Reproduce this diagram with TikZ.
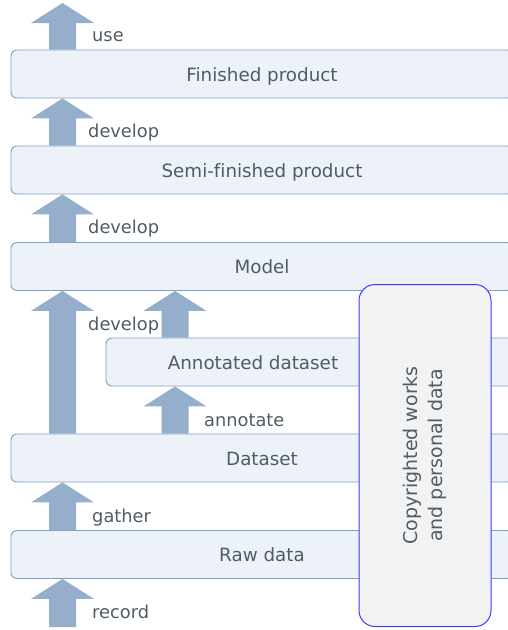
\documentclass[tikz,border=0pt]{standalone}
\usepackage{fontspec}
\setmainfont[Ligatures=NoCommon]{DejaVu Sans}
\usetikzlibrary{calc}
\definecolor{barfill}{HTML}{EDF2F9}
\definecolor{bardraw}{HTML}{7F9DCB}
\definecolor{arrowfill}{HTML}{94AECB}
\definecolor{txt}{HTML}{505C65}
\definecolor{cfill}{HTML}{F2F2F2}
\definecolor{cdraw}{HTML}{3C3CF5}
\tikzset{
  bar/.style={draw=bardraw, fill=barfill, line width=0.9pt, rounded corners=6pt, minimum height=48pt, inner sep=0pt, text=txt, text height=14pt, text depth=0pt, font=\fontsize{18.3}{21}\selectfont},
  bartext/.style={text=txt, font=\fontsize{18.3}{21}\selectfont, text height=14pt, text depth=0pt, inner sep=0pt},
  lbl/.style={text=txt, font=\fontsize{17.8}{20}\selectfont, inner sep=0pt, anchor=base west},
  blockarrow/.style={to path={let \p1=(\tikztostart), \p2=(\tikztotarget) in
    (\x1-13.5pt,\y1) -- (\x1-13.5pt,\y2-20pt) -- (\x1-31.5pt,\y2-20pt) -- (\x1,\y2) -- (\x1+31.5pt,\y2-20pt) -- (\x1+13.5pt,\y2-20pt) -- (\x1+13.5pt,\y1) -- cycle}},
  cbox/.style={draw=cdraw, fill=cfill, line width=1pt, rounded corners=16pt, minimum width=132pt, minimum height=342pt, inner sep=0pt}
}
\begin{document}
\begin{tikzpicture}[x=1pt,y=1pt]
\useasboundingbox (0,0) rectangle (508,-630);
\clip (0,0) rectangle (508,-630);
% bars
\node[bar, minimum width=502pt] (fin) at (262,-74) {Finished product};
\node[bar, minimum width=502pt] (semi) at (262,-170) {Semi-finished product};
\node[bar, minimum width=502pt] (model) at (262,-266.5) {Model};
\node[bar, minimum width=420pt] (ann) at (316,-362) {};
\node[bartext] (annt) at (253,-362) {Annotated dataset};
\node[bar, minimum width=502pt] (data) at (262,-458) {Dataset};
\node[bar, minimum width=502pt] (raw) at (262,-554.5) {Raw data};
% columns
\coordinate (c1) at (62.5,0);
\coordinate (c2) at (175,0);
\coordinate (top) at (62.5,-3);
\coordinate (bot) at (62.5,-627);
% arrows
\fill[arrowfill] (fin.north -| c1) to[blockarrow] (top);
\fill[arrowfill] (semi.north -| c1) to[blockarrow] (fin.south -| c1);
\fill[arrowfill] (model.north -| c1) to[blockarrow] (semi.south -| c1);
\fill[arrowfill] (data.north -| c1) to[blockarrow] (model.south -| c1);
\fill[arrowfill] (ann.north -| c2) to[blockarrow] (model.south -| c2);
\fill[arrowfill] (data.north -| c2) to[blockarrow] (ann.south -| c2);
\fill[arrowfill] (raw.north -| c1) to[blockarrow] (data.south -| c1);
\fill[arrowfill] (bot) to[blockarrow] (raw.south -| c1);
% labels
\node[lbl] (l1) at (92,-41) {use};
\node[lbl] (l2) at (88,-137) {develop};
\node[lbl] (l3) at (88,-233) {develop};
\node[lbl] (l4) at (88,-330) {develop};
\node[lbl] (l5) at (204,-426) {annotate};
\node[lbl] (l6) at (92,-522) {gather};
\node[lbl] (l7) at (92,-618) {record};
% copyrighted box
\node[cbox] (cw) at (425,-455.5) {};
\node[text=txt, font=\fontsize{19}{25}\selectfont, align=center, rotate=90, inner sep=0pt] (cwt) at (cw.center) {Copyrighted works\\and personal data};
\end{tikzpicture}
\end{document}
